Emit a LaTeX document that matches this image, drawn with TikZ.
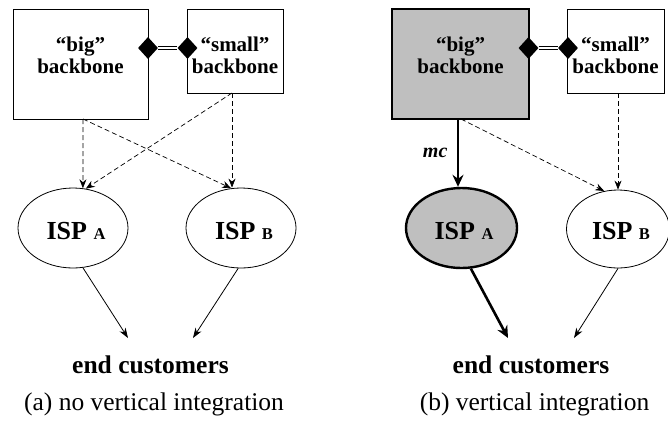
\documentclass[tikz,border=0pt]{standalone}
\usepackage{fontspec}
\setmainfont{Liberation Serif}
\usetikzlibrary{arrows.meta,shapes.geometric}
\begin{document}
\begin{tikzpicture}[x=1pt,y=-1pt,
  boxthin/.style={draw,line width=0.8pt,inner sep=0pt},
  boxthick/.style={draw,line width=2.6pt,fill=black!25,inner sep=0pt},
  boxlbl/.style={font=\fontsize{21}{22}\selectfont\bfseries,align=center,inner sep=0pt},
  ispthin/.style={ellipse,draw,line width=0.8pt,inner sep=0pt},
  ispthick/.style={ellipse,draw,line width=2.4pt,fill=black!25,inner sep=0pt},
  isplbl/.style={font=\fontsize{26}{28}\selectfont\bfseries,inner sep=0pt,anchor=base},
  eclbl/.style={font=\fontsize{25.5}{28}\selectfont\bfseries,inner sep=0pt,anchor=base},
  caplbl/.style={font=\fontsize{25.5}{28}\selectfont,inner sep=0pt,anchor=base},
  dia/.style={diamond,fill=black,minimum width=20pt,minimum height=22pt,inner sep=0pt},
  dbl/.style={double,double distance=2.2pt,line width=1.3pt},
  dasharr/.style={dashed,dash pattern=on 5pt off 3pt,line width=0.7pt,-{Stealth[length=9pt,width=7pt,inset=3pt]}},
  thinarr/.style={line width=0.8pt,-{Stealth[length=10pt,width=7pt,inset=3pt]}},
  thickarr/.style={line width=2.6pt,-{Stealth[length=12pt,width=11pt,inset=4pt]}},
]
\useasboundingbox (0,0) rectangle (668,426);

% ---------- panel (a) ----------
\node[boxthin,minimum width=135pt,minimum height=110pt] (bigA) at (80.5,64) {};
\node[boxlbl] (bigAt) at (80.5,55.5) {“big”\\backbone};
\node[boxthin,minimum width=96pt,minimum height=84pt] (smallA) at (235,51) {};
\node[boxlbl] (smallAt) at (235,55.5) {“small”\\backbone};
\node[dia] (dAl) at (148,48) {};
\node[dia] (dAr) at (187.5,48) {};
\draw[dbl] (dAl) -- (dAr);

\node[ispthin,minimum width=110pt,minimum height=80pt] (ispAa) at (73,228) {};
\node[isplbl] (ispAat) at (76,239) {ISP {\fontsize{16.5}{18}\selectfont A}};
\node[ispthin,minimum width=110pt,minimum height=80pt] (ispAb) at (241,228) {};
\node[isplbl] (ispAbt) at (244,239) {ISP {\fontsize{16.5}{18}\selectfont B}};

\node[eclbl] (ecA) at (150.5,373) {end customers};
\node[caplbl] (capA) at (154,410) {(a) no vertical integration};
\coordinate (ecAl) at (128,338);
\coordinate (ecAr) at (193,338);

\coordinate (bAs) at (83,119);
\coordinate (sAs) at (232,93);
\draw[dasharr] (bAs) -- (ispAa.76);
\draw[dasharr] (bAs) -- (ispAb.104);
\draw[dasharr] (sAs) -- (ispAa.72);
\draw[dasharr] (sAs) -- (ispAb.north -| sAs);
\draw[thinarr] (ispAa.-76) -- (ecAl);
\draw[thinarr] (ispAb.-94) -- (ecAr);

% ---------- panel (b) ----------
\node[boxthick,minimum width=137pt,minimum height=110pt] (bigB) at (460.5,64) {};
\node[boxlbl] (bigBt) at (460.5,55.5) {“big”\\backbone};
\node[boxthin,minimum width=97pt,minimum height=84pt] (smallB) at (615.5,51) {};
\node[boxlbl] (smallBt) at (615.5,55.5) {“small”\\backbone};
\node[dia] (dBl) at (528.5,48) {};
\node[dia] (dBr) at (568,48) {};
\draw[dbl] (dBl) -- (dBr);

\node[ispthick,minimum width=111pt,minimum height=80pt] (ispBa) at (461.5,228) {};
\node[isplbl] (ispBat) at (464,239) {ISP {\fontsize{16.5}{18}\selectfont A}};
\node[ispthin,minimum width=103pt,minimum height=78pt] (ispBb) at (618,229) {};
\node[isplbl] (ispBbt) at (621,239) {ISP {\fontsize{16.5}{18}\selectfont B}};

\node[eclbl] (ecB) at (531,373) {end customers};
\node[caplbl] (capB) at (534.5,410) {(b) vertical integration};
\coordinate (ecBl) at (508,338);
\coordinate (ecBr) at (574,338);

\coordinate (bBs) at (458,119);
\coordinate (bBs2) at (461,119);
\coordinate (sBs) at (618,93);
\draw[thickarr] (bBs) -- (ispBa.north -| bBs) node[midway,left=6pt,font=\fontsize{20}{22}\selectfont\bfseries\itshape] (mc) {mc};
\draw[dasharr] (bBs2) -- (ispBb.110);
\draw[dasharr] (sBs) -- (ispBb.north);
\draw[thickarr] (ispBa.-77) -- (ecBl);
\draw[thinarr] (ispBb.-90) -- (ecBr);
\end{tikzpicture}
\end{document}
